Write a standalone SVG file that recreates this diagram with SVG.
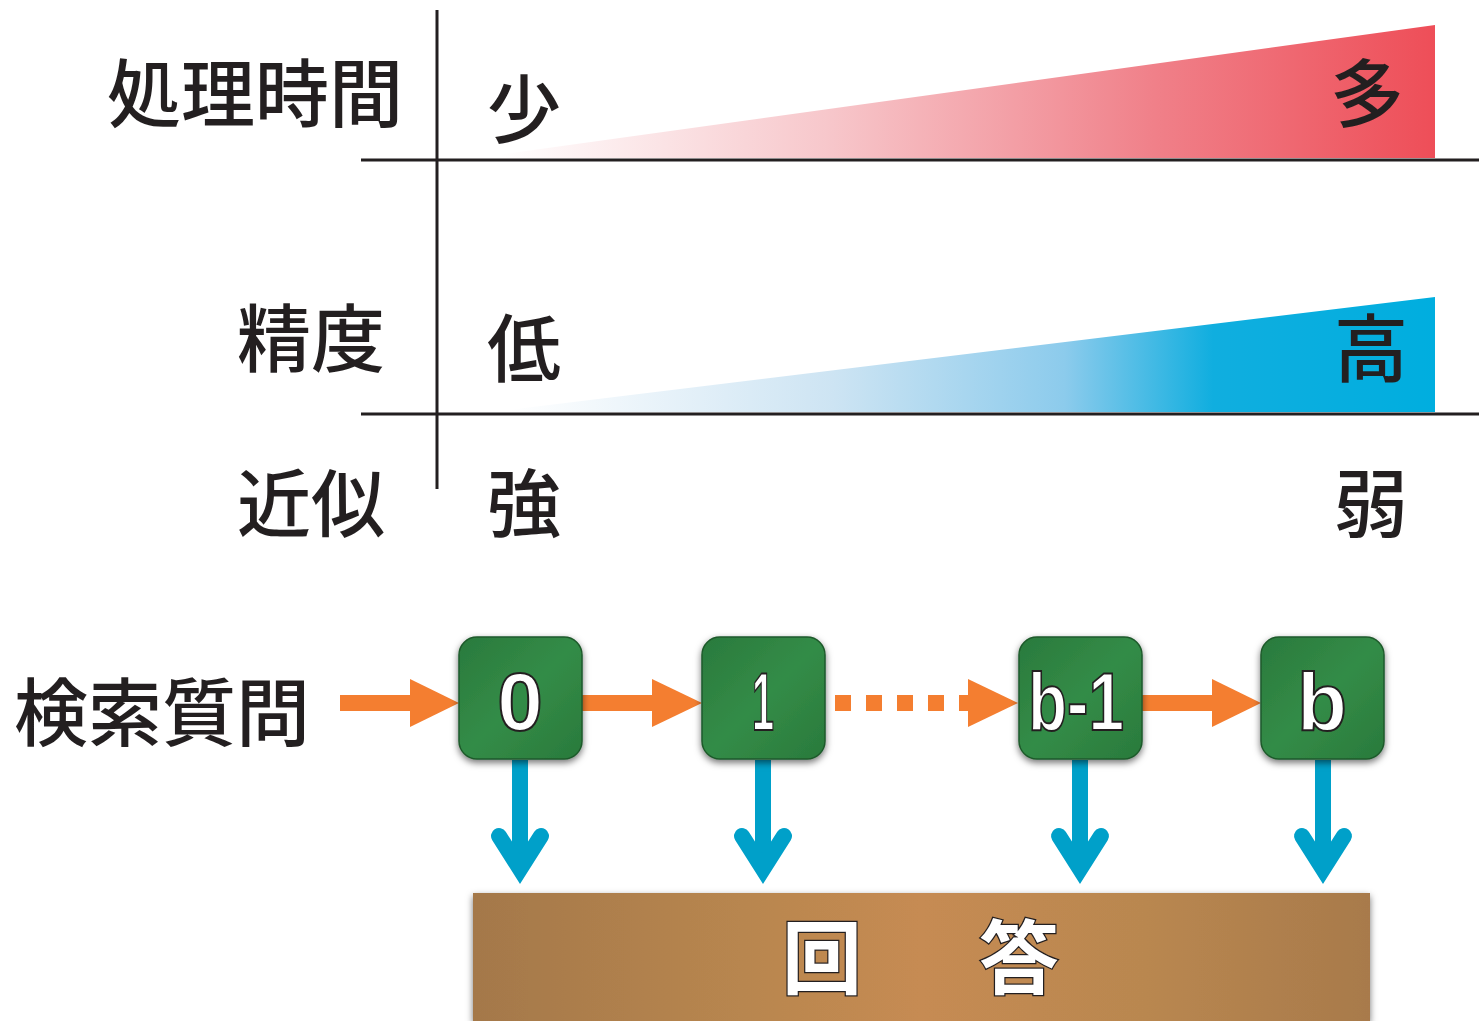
<svg xmlns="http://www.w3.org/2000/svg" width="1479" height="1021" viewBox="0 0 1479 1021">
<style>
.lbl{font-family:"Noto Sans CJK JP","Noto Sans",sans-serif;font-size:74px;font-weight:500;fill:#231f20}
.axis{stroke:#231f20;stroke-width:3;fill:none}
.node rect{fill:url(#green);stroke:#1e5a2b;stroke-width:1.5;filter:url(#shadow)}
.node text{font-family:"Liberation Sans","DejaVu Sans",sans-serif;font-weight:bold;font-size:82px;fill:#fff;stroke:#231f20;stroke-width:2;text-anchor:middle}
.orange{stroke:#f47e30;stroke-width:16;fill:none}
.ohead{fill:#f47e30}
.blue{stroke:#00a0c9;stroke-width:16;fill:none}
.bhead{stroke:#00a0c9;stroke-width:16;fill:none;stroke-linecap:round;stroke-linejoin:miter;stroke-miterlimit:10}
.ans{font-family:"Noto Sans CJK JP",sans-serif;font-weight:bold;font-size:80px;fill:#fff;stroke:#231f20;stroke-width:2.5;paint-order:stroke}
</style>
<defs>
<linearGradient id="red" gradientUnits="userSpaceOnUse" x1="500" y1="0" x2="1435" y2="0">
<stop offset="0" stop-color="#ffffff"/>
<stop offset="0.35" stop-color="#f7c7cb"/>
<stop offset="0.7" stop-color="#f08089"/>
<stop offset="1" stop-color="#ee4e58"/>
</linearGradient>
<linearGradient id="blueg" gradientUnits="userSpaceOnUse" x1="510" y1="0" x2="1435" y2="0">
<stop offset="0" stop-color="#ffffff"/>
<stop offset="0.35" stop-color="#cde4f3"/>
<stop offset="0.6" stop-color="#8ccbec"/>
<stop offset="0.76" stop-color="#10aedf"/>
<stop offset="1" stop-color="#00aedf"/>
</linearGradient>
<linearGradient id="green" x1="0" y1="0" x2="1" y2="1">
<stop offset="0" stop-color="#2a7a3d"/>
<stop offset="0.5" stop-color="#338c47"/>
<stop offset="1" stop-color="#2a7a3c"/>
</linearGradient>
<linearGradient id="brown" x1="0" y1="0" x2="1" y2="0">
<stop offset="0" stop-color="#a4784a"/>
<stop offset="0.3" stop-color="#b8864f"/>
<stop offset="0.5" stop-color="#c68b52"/>
<stop offset="0.75" stop-color="#b98750"/>
<stop offset="1" stop-color="#a87a4b"/>
</linearGradient>
<filter id="shadow" x="-20%" y="-20%" width="140%" height="150%">
<feDropShadow dx="0" dy="3" stdDeviation="3.5" flood-color="#000" flood-opacity="0.55"/>
</filter>
</defs>

<g id="chart">
<polygon points="490,156 1435,25 1435,158 490,158" fill="url(#red)"/>
<polygon points="500,411 1435,297 1435,412 500,412" fill="url(#blueg)"/>
<line class="axis" x1="437" y1="10" x2="437" y2="489"/>
<line class="axis" x1="361" y1="160" x2="1479" y2="160"/>
<line class="axis" x1="361" y1="414" x2="1479" y2="414"/>
<text class="lbl" x="107" y="121">処理時間</text>
<text class="lbl" x="237" y="366">精度</text>
<text class="lbl" x="237" y="531">近似</text>
<text class="lbl" x="487" y="137">少</text>
<text class="lbl" x="1330" y="121">多</text>
<text class="lbl" x="487" y="376">低</text>
<text class="lbl" x="1334" y="376">高</text>
<text class="lbl" x="487" y="531">強</text>
<text class="lbl" x="1334" y="531">弱</text>
</g>

<g id="query"><text class="lbl" x="14" y="740">検索質問</text></g>

<g id="connectors">
<line class="orange" x1="340" y1="703" x2="412" y2="703"/>
<polygon class="ohead" points="410,679 459,703 410,727"/>
<line class="orange" x1="582" y1="703" x2="654" y2="703"/>
<polygon class="ohead" points="652,679 702,703 652,727"/>
<line class="orange" x1="835" y1="703" x2="972" y2="703" stroke-dasharray="16 15"/>
<polygon class="ohead" points="968,679 1018,703 968,727"/>
<line class="orange" x1="1142" y1="703" x2="1214" y2="703"/>
<polygon class="ohead" points="1212,679 1261,703 1212,727"/>
<g>
<line class="blue" x1="520" y1="760" x2="520" y2="862"/>
<polyline class="bhead" points="499,836 520,869 541,836"/>
<line class="blue" x1="763" y1="760" x2="763" y2="862"/>
<polyline class="bhead" points="742,836 763,869 784,836"/>
<line class="blue" x1="1080" y1="760" x2="1080" y2="862"/>
<polyline class="bhead" points="1059,836 1080,869 1101,836"/>
<line class="blue" x1="1323" y1="760" x2="1323" y2="862"/>
<polyline class="bhead" points="1302,836 1323,869 1344,836"/>
</g>
</g>

<g id="node0" class="node"><rect x="459" y="637" width="123" height="122" rx="18"/><text x="520" y="730">0</text></g>
<g id="node1" class="node"><rect x="702" y="637" width="123" height="122" rx="18"/><text x="763" y="730" textLength="22" lengthAdjust="spacingAndGlyphs">1</text></g>
<g id="nodeb1" class="node"><rect x="1019" y="637" width="123" height="122" rx="18"/><text x="1076" y="730" textLength="96" lengthAdjust="spacingAndGlyphs">b-1</text></g>
<g id="nodeb" class="node"><rect x="1261" y="637" width="123" height="122" rx="18"/><text x="1322" y="730">b</text></g>

<g id="answer">
<rect x="473" y="893" width="897" height="128" fill="url(#brown)" filter="url(#shadow)"/>
<text class="ans" y="987"><tspan x="782">回</tspan><tspan x="979">答</tspan></text>
</g>
</svg>
